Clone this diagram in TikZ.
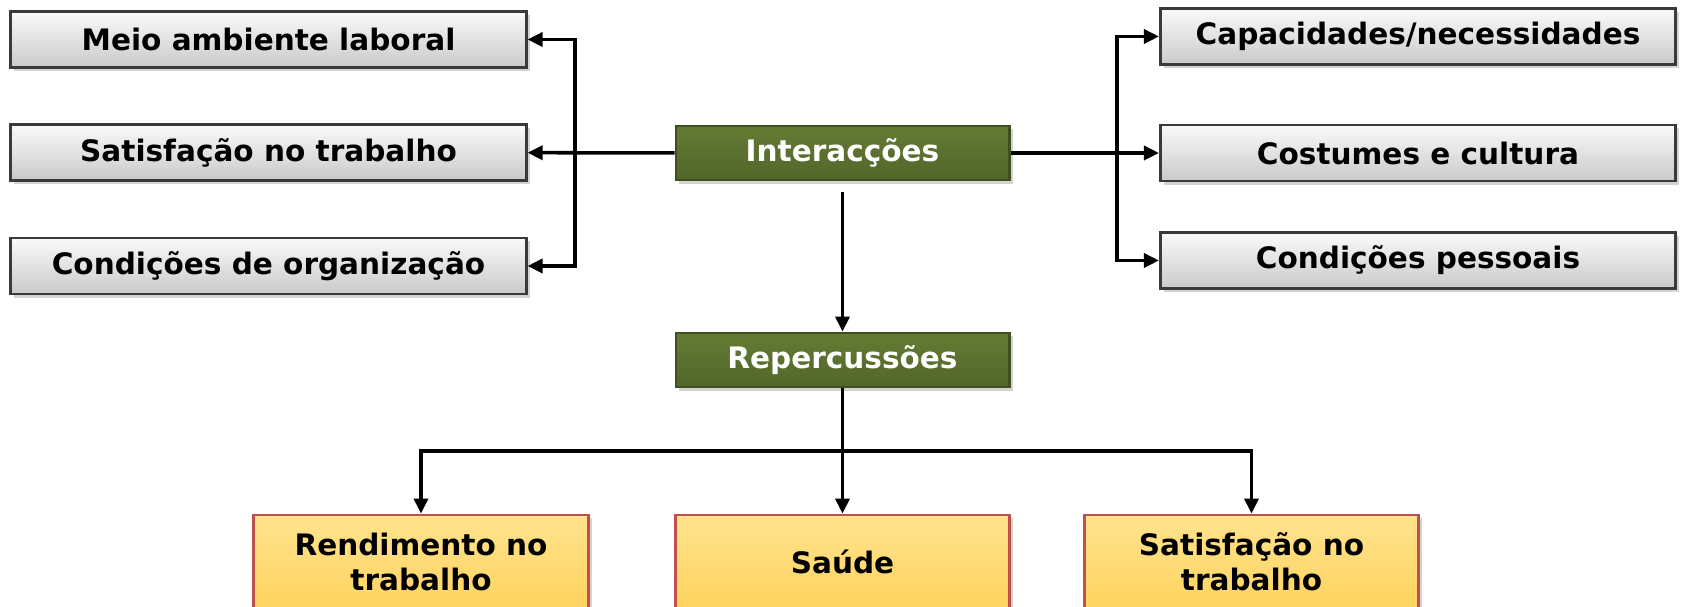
\documentclass[tikz,border=0pt]{standalone}
\usepackage{fontspec}
\setmainfont{DejaVu Sans}
\usetikzlibrary{arrows.meta,shadows}
\definecolor{frame}{HTML}{3A3A3A}
\definecolor{olive}{HTML}{52662A}
\definecolor{oliveup}{HTML}{647B34}
\definecolor{olivedark}{HTML}{3F4F1F}
\definecolor{gold}{HTML}{FFD35E}
\definecolor{goldup}{HTML}{FFE38E}
\definecolor{rust}{HTML}{C0504D}

\begin{document}
\begin{tikzpicture}[x=0.01cm,y=-0.01cm,
    box/.style={draw=frame,line width=0.8pt,top color=gray!4,bottom color=gray!42,
      minimum width=5.15cm,minimum height=0.56cm,inner sep=0pt,
      font=\fontsize{8.4}{10}\selectfont\bfseries,
      drop shadow={shadow xshift=0.35mm,shadow yshift=-0.35mm,opacity=0.35}},
    hub/.style={box,draw=olivedark,top color=oliveup,bottom color=olive,text=white,
      minimum width=3.33cm,minimum height=0.54cm},
    outcome/.style={box,draw=rust,top color=goldup,bottom color=gold,
      minimum width=3.34cm,minimum height=0.94cm,align=center},
    link/.style={line width=1pt},
    tip/.style={link,-{Triangle[length=1.5mm,width=1.4mm]}},
    tips/.style={link,{Triangle[length=1.5mm,width=1.4mm]}-{Triangle[length=1.5mm,width=1.4mm]}}]
  \useasboundingbox (0,0) rectangle (1681,607);
  % left column
  \node[box] (meio) at (268.5,39.5) {Meio ambiente laboral};
  \node[box] (satl) at (268.5,152.5) {Satisfação no trabalho};
  \node[box] (condo) at (268.5,266) {Condições de organização};
  % right column
  \node[box] (capac) at (1418,36.5) {Capacidades/necessidades};
  \node[box] (cost) at (1418,153) {Costumes e cultura};
  \node[box] (condp) at (1418,260.5) {Condições pessoais};
  % centre
  \node[hub] (inter) at (842.5,153) {Interacções};
  \node[hub] (reper) at (842.5,360) {Repercussões};
  % bottom row
  \node[outcome] (rend) at (421,562) {Rendimento no\\trabalho};
  \node[outcome] (saude) at (842.5,562) {Saúde};
  \node[outcome] (satb) at (1251.5,562) {Satisfação no\\trabalho};
  \coordinate (lfork) at (575,153);
  \coordinate (rfork) at (1117,153);
  \coordinate (split) at (842.5,451);
  % connectors
  \draw[tip] (inter) -- (satl);
  \draw[tips] (meio.east) -| (lfork) |- (condo.east);
  \draw[tip] (inter) -- (cost);
  \draw[tips] (capac.west) -| (rfork) |- (condp.west);
  \draw[tip,shorten <=1.1mm] (inter) -- (reper);
  \draw[tip] (reper) -- (saude);
  \draw[tip] (split) -| (rend);
  \draw[tip] (split) -| (satb);
\end{tikzpicture}
\end{document}
